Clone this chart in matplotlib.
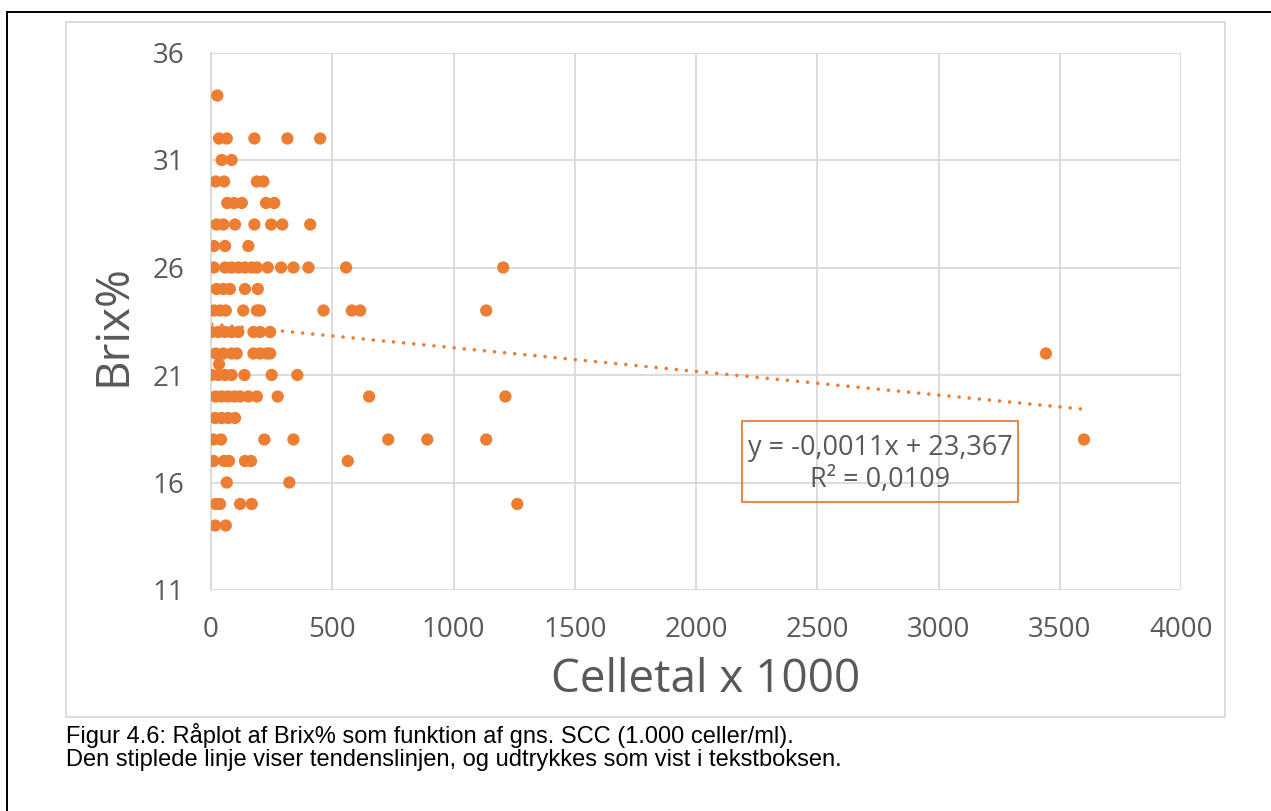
import matplotlib
matplotlib.use("Agg")
import matplotlib.pyplot as plt
from matplotlib.lines import Line2D
from matplotlib.patches import Rectangle

# ---- data ----
brix_levels = [34, 32, 31, 30, 29, 28, 27, 26, 25, 24, 23, 22, 21.5, 21, 20, 19, 18, 17, 16, 15, 14]
scc_by_level = [
    [26],
    [33, 65, 179, 315, 450],
    [44, 85],
    [19, 54, 189, 216],
    [67, 95, 127, 227, 261],
    [23, 51, 99, 179, 248, 294, 409],
    [12, 58, 154],
    [12, 58, 85, 113, 140, 168, 189, 234, 289, 340, 402, 557, 1205],
    [23, 51, 78, 140, 193],
    [12, 37, 61, 133, 189, 202, 464, 581, 615, 1135],
    [3, 30, 58, 85, 113, 175, 202, 244],
    [19, 51, 85, 106, 175, 202, 230, 244, 3443],
    [33],
    [3, 30, 58, 85, 138, 250, 356],
    [19, 44, 71, 96, 120, 154, 189, 275, 652, 1214],
    [17, 44, 71, 99],
    [10, 41, 220, 340, 731, 892, 1135, 3600],
    [10, 54, 74, 140, 165, 564],
    [65, 323],
    [19, 37, 120, 168, 1263],
    [17, 61],
]
trend_slope = -0.0011
trend_intercept = 23.367
x_ticks = [0, 500, 1000, 1500, 2000, 2500, 3000, 3500, 4000]
y_ticks = [11, 16, 21, 26, 31, 36]
x_label = "Celletal x 1000"
y_label = "Brix%"
eq_text = "y = -0,0011x + 23,367\nR\u00b2 = 0,0109"
caption = ("Figur 4.6: R\u00e5plot af Brix% som funktion af gns. SCC (1.000 celler/ml).\n"
           "Den stiplede linje viser tendenslinjen, og udtrykkes som vist i tekstboksen.")

scc = []
brix = []
for lvl, xs in zip(brix_levels, scc_by_level):
    for v in xs:
        scc.append(v)
        brix.append(lvl)

ORANGE = "#ED7D31"
GRID = "#D9D9D9"
TXT = "#595959"

W, H = 1271, 811
fig = plt.figure(figsize=(W / 100, H / 100), dpi=100)

# outer black frame (top and left visible)
fig.add_artist(Line2D([7 / W, 1.0], [1 - 12 / H, 1 - 12 / H], color="black", lw=1.4, transform=fig.transFigure))
fig.add_artist(Line2D([7 / W, 7 / W], [0, 1 - 12 / H], color="black", lw=1.4, transform=fig.transFigure))
# chart area border
fig.add_artist(Rectangle((66 / W, 1 - 717 / H), (1225 - 66) / W, (717 - 22) / H,
                         fill=False, edgecolor=GRID, lw=1.3, transform=fig.transFigure))

ax = fig.add_axes([211 / W, 1 - 590 / H, (1181 - 211) / W, (590 - 52.5) / H])
ax.set_xlim(0, 4000)
ax.set_ylim(11, 36)
ax.set_xticks(x_ticks)
ax.set_yticks(y_ticks)
ax.grid(True, color=GRID, lw=1.3)
ax.set_axisbelow(True)
for s in ax.spines.values():
    s.set_visible(False)
ax.spines["left"].set_visible(True)
ax.spines["left"].set_color(GRID)
ax.spines["left"].set_linewidth(1.3)
ax.tick_params(length=0, labelsize=20, labelcolor=TXT, pad=19)
for lab in ax.get_xticklabels() + ax.get_yticklabels():
    lab.set_fontfamily("Open Sans")

# trendline
xmin, xmax = min(scc), max(scc)
ax.plot([xmin, xmax], [trend_slope * xmin + trend_intercept, trend_slope * xmax + trend_intercept],
        color=ORANGE, lw=2.6, linestyle=(0, (0.01, 2.8)), dash_capstyle="round", zorder=2)

ax.scatter(scc, brix, s=78, color=ORANGE, edgecolors="none", zorder=3)

ax.set_xlabel(x_label, fontsize=33, color=TXT, family="Open Sans")
ax.set_ylabel(y_label, fontsize=33, color=TXT, family="Open Sans")
ax.xaxis.set_label_coords((706 - 211) / 970, (590 - 680) / 537.5)
ax.xaxis.label.set_va("center")
ax.yaxis.set_label_coords((113 - 211) / 970, (590 - 325) / 537.5)
ax.yaxis.label.set_va("center")

# equation box
fig.text(880 / W, 1 - 464 / H, eq_text, ha="center", va="center", fontsize=19.5, color=TXT,
         family="Open Sans", linespacing=1.2)
fig.add_artist(Rectangle((742 / W, 1 - 502 / H), (1018 - 742) / W, (502 - 421) / H,
                         fill=False, edgecolor=ORANGE, lw=1.3, transform=fig.transFigure))

fig.text(66 / W, 1 - 723 / H, caption, ha="left", va="top", fontsize=17, color="black",
         family="Liberation Sans", linespacing=1.08)

fig.savefig("out.png", dpi=100)
